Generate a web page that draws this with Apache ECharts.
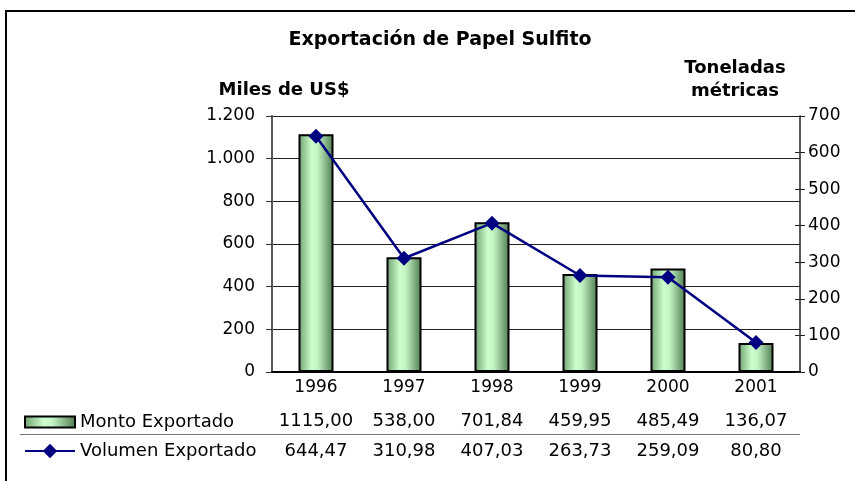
<!DOCTYPE html>
<html style="height: 100%">
<head>
<meta charset="utf-8">
</head>
<body style="height: 100%; margin: 0; background: #fff">
	<div id="container" style="width: 855px; height: 481px"></div>
	<script type="text/javascript" src="https://cdn.jsdelivr.net/npm/echarts@6/dist/echarts.min.js"></script>
	<script type="text/javascript">
		var years = ['1996', '1997', '1998', '1999', '2000', '2001'];
		var monto = [1115.00, 538.00, 701.84, 459.95, 485.49, 136.07];
		var volumen = [644.47, 310.98, 407.03, 263.73, 259.09, 80.80];
		var montoName = 'Monto Exportado';
		var volumenName = 'Volumen Exportado';

		var font = 'DejaVu Sans';

		// numeros al estilo es: 1.200 y 1115,00
		function miles(v) {
			return String(v).replace(/\B(?=(\d{3})+(?!\d))/g, '.');
		}
		function dec(v) {
			return v.toFixed(2).replace('.', ',');
		}

		var barColor = new echarts.graphic.LinearGradient(0, 0, 1, 0, [
			{offset: 0, color: '#6f9f6f'},
			{offset: 0.38, color: '#ccffcc'},
			{offset: 0.55, color: '#c2f2c2'},
			{offset: 1, color: '#4d7a4f'}
		]);

		var dom = document.getElementById("container");
		var myChart = echarts.init(dom);

		var option = {
			animation: false,
			grid: {left: 272, right: 55, top: 116, bottom: 109},
			legend: [{
				data: [montoName],
				icon: 'rect',
				left: 19, top: 408,
				itemWidth: 50, itemHeight: 11,
				itemStyle: {borderColor: '#000', borderWidth: 2},
				textStyle: {fontFamily: font, fontSize: 18, color: '#000', lineHeight: 18}
			}, {
				data: [volumenName],
				left: 19, top: 437,
				itemWidth: 50, itemHeight: 18,
				lineStyle: {width: 2},
				textStyle: {fontFamily: font, fontSize: 18, color: '#000', lineHeight: 18}
			}],
			xAxis: [{
				type: 'category',
				data: years,
				axisLine: {lineStyle: {color: '#000', width: 2}},
				axisTick: {show: false},
				axisLabel: {fontFamily: font, fontSize: 17, color: '#000', margin: 7, interval: 0}
			}, {
				type: 'category',
				data: years,
				position: 'bottom',
				axisLine: {show: false},
				axisTick: {show: false},
				axisLabel: {
					fontFamily: font, fontSize: 18, color: '#000', margin: 40, interval: 0,
					formatter: function (v, i) { return dec(monto[i]); }
				}
			}, {
				type: 'category',
				data: years,
				position: 'bottom',
				axisLine: {show: false},
				axisTick: {show: false},
				axisLabel: {
					fontFamily: font, fontSize: 18, color: '#000', margin: 70, interval: 0,
					formatter: function (v, i) { return dec(volumen[i]); }
				}
			}],
			yAxis: [{
				type: 'value',
				min: 0, max: 1200, interval: 200,
				axisLine: {show: true, lineStyle: {color: '#555', width: 2}},
				axisTick: {show: true, length: 6, lineStyle: {color: '#333'}},
				splitLine: {lineStyle: {color: '#222', width: 1}},
				axisLabel: {
					fontFamily: font, fontSize: 17, color: '#000', margin: 17,
					formatter: function (v) { return miles(v); }
				}
			}, {
				type: 'value',
				position: 'right',
				min: 0, max: 700, interval: 100,
				axisLine: {show: true, lineStyle: {color: '#222', width: 1.5}},
				axisTick: {show: true, length: 5, lineStyle: {color: '#222'}},
				splitLine: {show: false},
				axisLabel: {fontFamily: font, fontSize: 17, color: '#000', margin: 8}
			}, {
				// marcas interiores del eje derecho
				type: 'value',
				position: 'right',
				min: 0, max: 700, interval: 100,
				axisLine: {show: false},
				axisTick: {show: true, inside: true, length: 5, lineStyle: {color: '#222'}},
				splitLine: {show: false},
				axisLabel: {show: false}
			}],
			series: [{
				name: montoName,
				type: 'bar',
				data: monto,
				barWidth: 35,
				itemStyle: {color: barColor, borderColor: '#000', borderWidth: 2}
			}, {
				name: volumenName,
				type: 'line',
				yAxisIndex: 1,
				data: volumen,
				symbol: 'diamond',
				symbolSize: 15,
				lineStyle: {color: '#000080', width: 2.5},
				itemStyle: {color: '#000080'}
			}],
			graphic: [{
				type: 'rect', silent: true,
				shape: {x: 6, y: 11, width: 900, height: 500},
				style: {fill: 'none', stroke: '#000', lineWidth: 2}
			}, {
				type: 'text', silent: true,
				style: {x: 440, y: 40, text: 'Exportación de Papel Sulfito', align: 'center', verticalAlign: 'middle',
					font: 'bold 19px "DejaVu Sans"', fill: '#000'}
			}, {
				type: 'text', silent: true,
				style: {x: 284, y: 90, text: 'Miles de US$', align: 'center', verticalAlign: 'middle',
					font: 'bold 18px "DejaVu Sans"', fill: '#000'}
			}, {
				type: 'text', silent: true,
				style: {x: 735, y: 68, text: 'Toneladas', align: 'center', verticalAlign: 'middle',
					font: 'bold 18px "DejaVu Sans"', fill: '#000'}
			}, {
				type: 'text', silent: true,
				style: {x: 735, y: 91, text: 'métricas', align: 'center', verticalAlign: 'middle',
					font: 'bold 18px "DejaVu Sans"', fill: '#000'}
			}, {
				type: 'line', silent: true,
				shape: {x1: 20, y1: 434.5, x2: 800, y2: 434.5},
				style: {stroke: '#777', lineWidth: 1}
			}]
		};
		if (option && typeof option === "object") {
			myChart.setOption(option, true);
		}
	</script>
</body>
</html>
